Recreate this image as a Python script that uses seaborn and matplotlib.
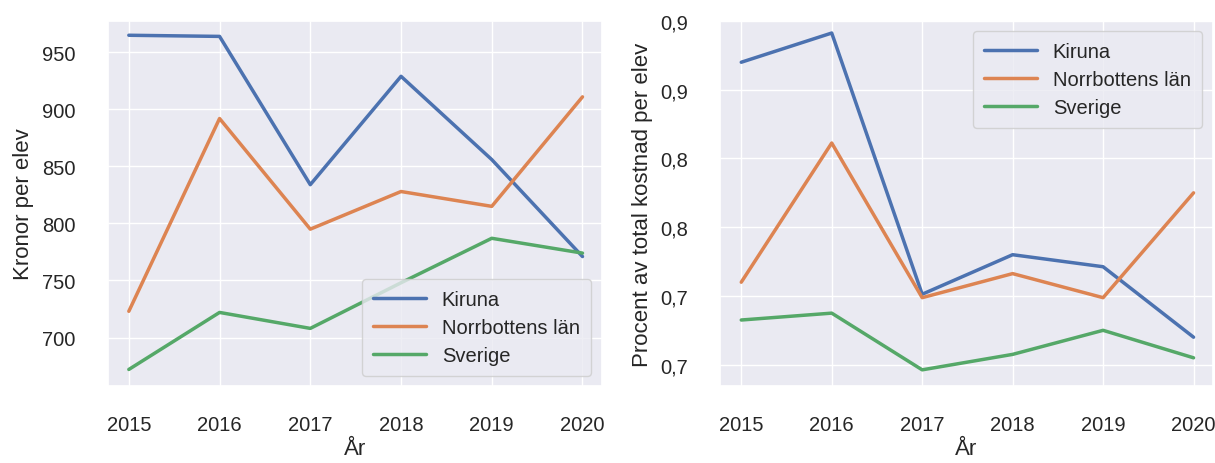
import matplotlib
matplotlib.use("Agg")
import matplotlib.pyplot as plt
import seaborn as sns
import pandas as pd

years = [2015, 2016, 2017, 2018, 2019, 2020]
regions = ["Kiruna", "Norrbottens län", "Sverige"]

kronor_kiruna = [965, 964, 834, 929, 856, 771]
kronor_norrbotten = [723, 892, 795, 828, 815, 911]
kronor_sverige = [672, 722, 708, 748, 787, 774]

procent_kiruna = [0.876, 0.893, 0.741, 0.764, 0.757, 0.716]
procent_norrbotten = [0.748, 0.829, 0.739, 0.753, 0.739, 0.800]
procent_sverige = [0.726, 0.730, 0.697, 0.706, 0.720, 0.704]

procent_ticks = [0.70, 0.74, 0.78, 0.82, 0.86, 0.90]
procent_ticklabels = ["0,7", "0,7", "0,8", "0,8", "0,9", "0,9"]

sns.set_theme(style="darkgrid")
plt.rcParams['font.family'] = ['Liberation Sans', 'DejaVu Sans']

def long(vals_list):
    rows = []
    for reg, vals in zip(regions, vals_list):
        for y, v in zip(years, vals):
            rows.append({"År": y, "value": v, "region": reg})
    return pd.DataFrame(rows)

df_k = long([kronor_kiruna, kronor_norrbotten, kronor_sverige])
df_p = long([procent_kiruna, procent_norrbotten, procent_sverige])

W, H = 1215, 464
fig = plt.figure(figsize=(W / 100, H / 100), dpi=100)
ax1 = fig.add_axes([107.5 / W, (H - 387) / H, (602 - 107.5) / W, (387 - 22) / H])
ax2 = fig.add_axes([720 / W, (H - 387) / H, (1213 - 720) / W, (387 - 22) / H])

pal = sns.color_palette("deep")[:3]
fs = 14.5
lfs = 16

for ax, df in [(ax1, df_k), (ax2, df_p)]:
    sns.lineplot(data=df, x="År", y="value", hue="region", hue_order=regions,
                 palette=pal, linewidth=2.5, ax=ax)
    ax.set_xticks(years)
    ax.set_xticklabels([str(y) for y in years])
    ax.set_xlim(2014.765, 2020.215)
    ax.tick_params(axis="x", labelsize=fs, pad=15, colors="#262626")
    ax.tick_params(axis="y", labelsize=fs, pad=17, colors="#262626")
    ax.set_xlabel("År", fontsize=lfs, labelpad=3, color="#262626")

ax1.set_yticks([700, 750, 800, 850, 900, 950])
ax1.set_ylim(657.5, 977.5)
ax1.set_ylabel("Kronor per elev", fontsize=lfs, labelpad=6, color="#262626")
ax1.legend(loc="lower right", fontsize=fs, handlelength=2.6, borderpad=0.55,
           labelspacing=0.45, bbox_to_anchor=(0.998, 0.0))

ax2.set_yticks(procent_ticks)
ax2.set_yticklabels(procent_ticklabels)
ax2.set_ylim(0.6876, 0.9)
ax2.set_ylabel("Procent av total kostnad per elev", fontsize=lfs, labelpad=5, color="#262626")
ax2.legend(loc="upper right", fontsize=fs, handlelength=2.6, borderpad=0.55,
           labelspacing=0.45, bbox_to_anchor=(0.998, 1.0))

fig.savefig("out.png", dpi=100)
